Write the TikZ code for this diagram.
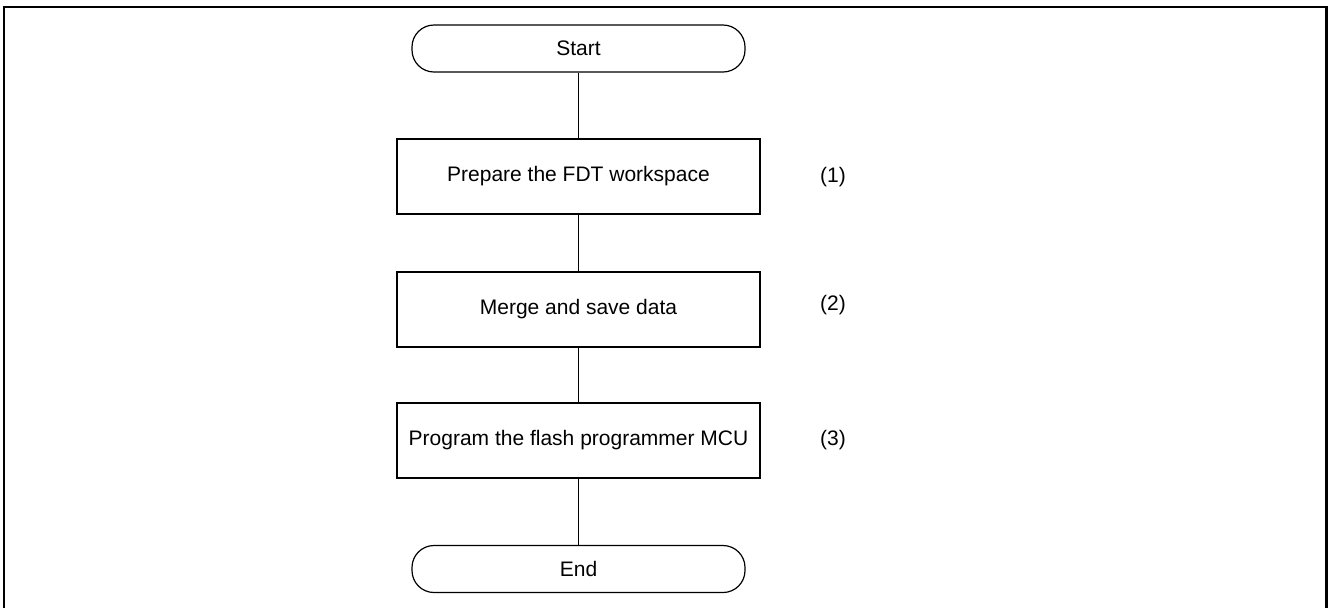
\documentclass[tikz,border=0pt]{standalone}
\usepackage{fontspec}
\setmainfont{Liberation Sans}
\begin{document}
\begin{tikzpicture}[x=0.5pt,y=-0.5pt,
  term/.style={draw,line width=0.6pt,rounded corners=11pt,minimum width=166.5pt,minimum height=23.5pt,inner sep=0pt,font=\fontsize{10.5}{12}\selectfont},
  proc/.style={draw,line width=0.6pt,minimum width=181.5pt,minimum height=37.5pt,inner sep=0pt,font=\fontsize{10.5}{12}\selectfont},
  lab/.style={inner sep=0pt,font=\fontsize{10.5}{12}\selectfont},
  conn/.style={line width=0.6pt}]
\useasboundingbox (0,0) rectangle (1328,607);
\draw[line width=1.4pt] (4,620) -- (4,7) -- (1326.5,7) -- (1326.5,620);
\node[term] (start) at (578.5,48.5) {Start};
\node[proc] (p1) at (578.5,176.5) {Prepare the FDT workspace};
\node[proc] (p2) at (578.5,309.5) {Merge and save data};
\node[proc] (p3) at (578.5,440.5) {Program the flash programmer MCU};
\node[term] (end) at (578.5,569) {End};
\node[lab] (l1) at (833,177) {(1)};
\node[lab] (l2) at (833,305) {(2)};
\node[lab] (l3) at (833,440) {(3)};
\draw[conn] (start) -- (p1);
\draw[conn] (p1) -- (p2);
\draw[conn] (p2) -- (p3);
\draw[conn] (p3) -- (end);
\end{tikzpicture}
\end{document}
